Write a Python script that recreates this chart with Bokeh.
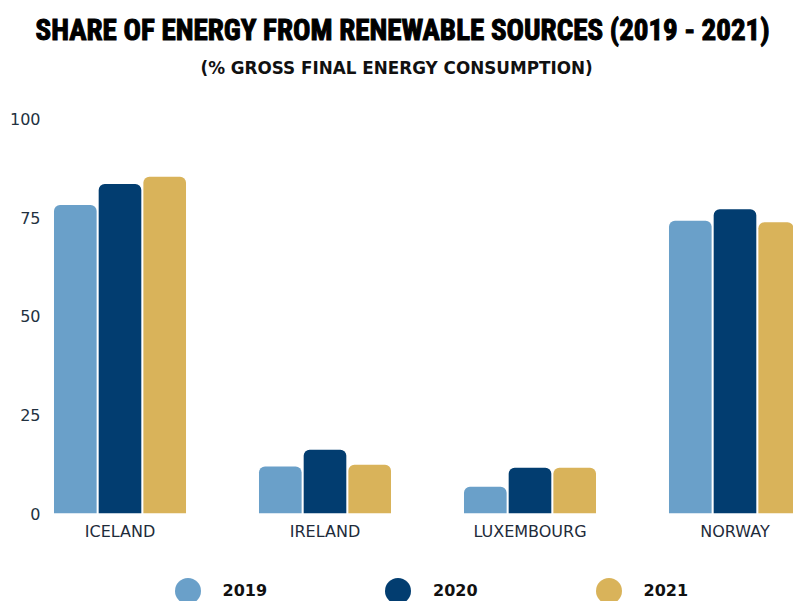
from bokeh.plotting import figure
from bokeh.models import Range1d, FixedTicker, Legend, LegendItem, Title
from bokeh.layouts import column
from bokeh.embed import file_html
from bokeh.resources import INLINE

# ---- data ----
countries = ["ICELAND", "IRELAND", "LUXEMBOURG", "NORWAY"]
years = ["2019", "2020", "2021"]
share_2019 = [78.3, 11.9, 6.8, 74.3]
share_2020 = [83.6, 16.2, 11.6, 77.2]
share_2021 = [85.5, 12.4, 11.6, 73.9]
y_ticks = [0, 25, 50, 75, 100]

colors = ["#6aa0c9", "#023d70", "#d9b35a"]
series = [share_2019, share_2020, share_2021]

W = 793
H_MAIN, H_LEG = 550, 51

p = figure(width=W, height=H_MAIN, output_backend="svg", toolbar_location=None,
           x_range=Range1d(-0.3488, 3.2854), y_range=Range1d(0, 104.06),
           min_border_left=48, min_border_right=0, min_border_top=103,
           min_border_bottom=37)
p.outline_line_color = None
p.xgrid.grid_line_color = None
p.ygrid.grid_line_color = None
p.title.text = ""

idx = list(range(len(countries)))
offsets = [-0.218, 0.0, 0.218]
bar_x = []
for vals, off, col in zip(series, offsets, colors):
    xs = [i + off for i in idx]
    bar_x.append(xs)
    p.vbar(x=xs, top=vals, bottom=0, width=0.208,
           fill_color=col, line_color=None, border_radius=(6, 6, 0, 0))

for ax in (p.xaxis, p.yaxis):
    ax.axis_line_color = None
    ax.major_tick_line_color = None
    ax.minor_tick_line_color = None
    ax.major_tick_out = 0
    ax.major_tick_in = 0
    ax.minor_tick_out = 0
    ax.minor_tick_in = 0
    ax.major_label_text_font = "DejaVu Sans"
    ax.major_label_text_font_size = "16px"

p.yaxis.ticker = FixedTicker(ticks=y_ticks)
p.yaxis.major_label_standoff = 8
p.yaxis.major_label_text_color = "#22313f"

p.xaxis.ticker = FixedTicker(ticks=idx)
p.xaxis.major_label_overrides = {i: c for i, c in zip(idx, countries)}
p.xaxis.major_label_standoff = 8
p.xaxis.major_label_text_color = "#1e2b3a"

# ---- titles (first added sits nearest the plot) ----
p.add_layout(Title(text="(% GROSS FINAL ENERGY CONSUMPTION)",
                   align="left", offset=152, standoff=51,
                   vertical_align="bottom",
                   text_font="DejaVu Sans", text_font_style="bold",
                   text_font_size="16.8px", text_color="#111111"), "above")
p.add_layout(Title(text="SHARE OF ENERGY FROM RENEWABLE SOURCES (2019 - 2021)",
                   align="left", offset=-13, standoff=-33,
                   vertical_align="bottom",
                   text_font="Roboto Condensed, Open Sans Condensed, Liberation Sans Narrow, DejaVu Sans Condensed",
                   text_font_style="bold",
                   text_font_size="29px", text_color="#000000",
                   text_outline_color="#000000"), "above")

# ---- legend strip ----
lg = figure(width=W, height=H_LEG, output_backend="svg", toolbar_location=None,
            x_range=Range1d(0, 1), y_range=Range1d(0, 1),
            x_axis_type=None, y_axis_type=None,
            min_border_left=0, min_border_right=0, min_border_top=0,
            min_border_bottom=0)
lg.outline_line_color = None
lg.xgrid.visible = False
lg.ygrid.visible = False
items = []
for yr, xs, vals, col in zip(years, bar_x, series, colors):
    r = lg.scatter(x=xs, y=vals, marker="circle", size=0,
                   fill_color=col, line_color=None)
    items.append(LegendItem(label=yr, renderers=[r]))
legend = Legend(items=items, orientation="horizontal", location=(106.5, -21.5),
                glyph_width=65, glyph_height=65, label_standoff=3, spacing=98,
                padding=0, margin=0, border_line_color=None,
                background_fill_alpha=0,
                label_text_font="DejaVu Sans", label_text_font_style="bold",
                label_text_font_size="16px", label_text_color="#111111",
                label_text_baseline="middle")
lg.add_layout(legend)

page = column(p, lg, spacing=0)
open("out.html", "w").write(file_html(page, INLINE))
